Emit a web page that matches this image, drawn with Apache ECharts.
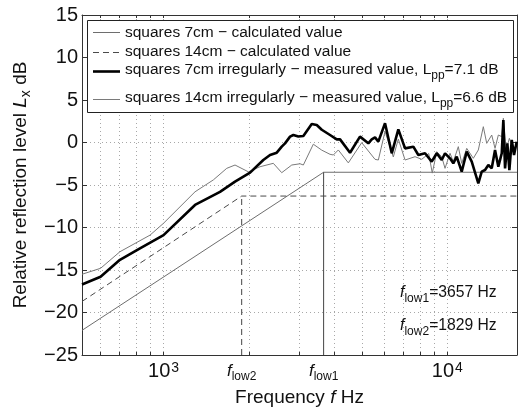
<!DOCTYPE html>
<html><head><meta charset="utf-8">
<script src="https://cdn.jsdelivr.net/npm/echarts@6/dist/echarts.min.js"></script>
<style>html,body{margin:0;padding:0;background:#fff}#c{width:518px;height:412px}</style>
</head><body><div id="c"></div>
<script>
// ---------------- data ----------------
const xRange = [516, 17600];            // Hz, visible frequency range
const yRange = [-25, 15];               // dB
const yTickStep = 5;
const xMinorTicks = [600, 700, 800, 900, 1000, 2000, 3000, 4000, 5000, 6000, 7000, 8000, 9000, 10000];
const xLabelValues = [1000, 10000];
const markerNames = ['low1', 'low2'];
const markerFreq = [3665, 1885];        // where the f_low lines are drawn
const markerTextHz = [3657, 1829];      // values written in the annotation

const seriesNames = [
  'squares 7cm − calculated value',
  'squares 14cm − calculated value',
  'squares 7cm irregularly − measured value, L{sub|pp}=7.1 dB',
  'squares 14cm irregularly − measured value, L{sub|pp}=6.6 dB'
];

const calc7cm = [[516, -22.1], [3665, -3.5], [17600, -3.5]];
const calc14cm = [[516, -18.7], [1885, -6.3], [17600, -6.3]];

const meas7cm = [
  [516,-16.7],[600,-15.8],[702,-13.8],[826,-12.45],[1000,-10.9],[1291,-7.35],[1581,-5.8],[1786,-4.6],
  [2018,-3.55],[2247,-2.06],[2373,-1.47],[2506,-1.2],[2609,-0.49],[2680,-0.1],[2791,0.69],[2868,0.88],
  [2985,0.7],[3027,0.61],[3109,0.76],[3328,2.18],[3466,2.06],[3610,1.5],[3861,0.88],[4077,0.37],
  [4188,0.37],[4541,-1.2],[4923,0.69],[4992,0.76],[5267,-0.1],[5415,0.37],[5562,0.6],[5713,0.1],
  [6032,2.26],[6370,-1.27],[6720,1.55],[7096,-0.69],[7590,-0.49],[7905,-1.47],[8346,-1.27],[8810,-2.25],
  [9177,-1.27],[9556,-2.06],[9815,-1.27],[10221,-1.86],[10498,-2.45],[10791,-1.67],[11238,-3.43],[11706,-1.08],
  [12190,-2.25],[12859,-4.8],[13219,-3.43],[13578,-3.24],[13949,-2.65],[14337,-3.04],[14728,-0.88],[15127,-2.84],
  [15552,-1.27],[15754,2.65],[15974,-3.04],[16275,-0.1],[16543,-3.24],[16867,0.3],[17180,-1.47],[17560,0.1]
];

const meas14cm = [
  [516,-15.5],[600,-14.8],[702,-12.85],[896,-10.9],[1000,-9.5],[1291,-5.8],[1498,-4.4],[1670,-3.04],
  [1786,-2.65],[1990,-3.45],[2188,-2.85],[2437,-2.45],[2609,-3.55],[2830,-2.65],[3027,-2.5],[3109,-2.65],
  [3371,-0.2],[3610,-0.9],[3861,-1.39],[3966,-1.47],[4130,-0.88],[4479,-2.4],[4992,-0.02],[5562,-1.98],
  [5713,-2.06],[6032,1.3],[6452,-1.7],[6720,0.4],[7096,-2.06],[7696,-1.67],[8126,-1.98],[8600,-1.3],
  [8850,-3.6],[9177,-1.08],[9556,-1.67],[9815,-3.04],[10221,-1.27],[10498,-2.25],[10931,-0.49],[11238,-2.45],
  [11706,-0.69],[12348,-1.86],[12859,-0.88],[13391,1.86],[13767,-0.1],[14337,0.88],[14728,-0.69],[15127,0.88],
  [15552,0.69],[15754,2.85],[16103,-0.88],[16543,0.49],[17089,-0.88],[17560,-0.1]
];

// ---------------- styles ----------------
const FONT = '"Liberation Sans", Arial, Helvetica, sans-serif';
const AXIS_C = '#333';
const GRID_C = '#a8a8a8';
const lineStyles = [
  {color: '#6e6e6e', width: 1, type: 'solid'},
  {color: '#4a4a4a', width: 1, type: [6, 4]},
  {color: '#000000', width: 2.6, type: 'solid'},
  {color: '#7a7a7a', width: 1, type: 'solid'}
];
const dataSets = [calc7cm, calc14cm, meas7cm, meas14cm];
const zOrder = [3, 3, 5, 4];

const chart = echarts.init(document.getElementById('c'));

function near(a, b) { return Math.abs(Math.log10(a / b)) < 0.004; }
function xLabel(v) {
  if (near(v, 1000)) return '10{sup|3}';
  if (near(v, 10000)) return '10{sup|4}';
  for (let i = 0; i < markerFreq.length; i++) if (near(v, markerFreq[i])) return '{i|f}{sub|' + markerNames[i] + '}';
  return '';
}

const series = dataSets.map((d, i) => ({
  type: 'line', name: seriesNames[i], data: d, symbol: 'none', showSymbol: false,
  lineStyle: lineStyles[i], z: zOrder[i], animation: false, silent: true
}));
// f_low marker lines (vertical, from bottom to the corner of the calculated curve)
series.push({type: 'line', data: [[markerFreq[0], yRange[0]], [markerFreq[0], calc7cm[1][1]]], symbol: 'none',
  lineStyle: {color: '#444', width: 1, type: 'solid'}, z: 3, animation: false, silent: true});
series.push({type: 'line', data: [[markerFreq[1], yRange[0]], [markerFreq[1], calc14cm[1][1]]], symbol: 'none',
  lineStyle: {color: '#444', width: 1, type: [6, 4]}, z: 3, animation: false, silent: true});

const baseX = {
  type: 'log', logBase: 10, min: xRange[0], max: xRange[1],
  axisLine: {show: true, onZero: false, lineStyle: {color: AXIS_C, width: 1}},
  axisTick: {show: true, inside: true, length: 3, customValues: xMinorTicks, lineStyle: {color: AXIS_C}},
  minorTick: {show: false}
};

chart.setOption({
  animation: false,
  backgroundColor: '#fff',
  grid: {left: 82, top: 15, right: 1, bottom: 57, containLabel: false},
  xAxis: [
    Object.assign({}, baseX, {
      position: 'bottom',
      name: 'Frequency {i|f} Hz', nameLocation: 'middle', nameGap: 25,
      nameTextStyle: {fontFamily: FONT, fontSize: 19, color: '#111',
        rich: {i: {fontFamily: FONT, fontSize: 19, fontStyle: 'italic', color: '#111'}}},
      splitLine: {show: true, lineStyle: {color: GRID_C, type: [1, 3], width: 1}},
      axisLabel: {show: true, customValues: xLabelValues.concat(markerFreq), margin: 5,
        fontFamily: FONT, fontSize: 20, color: '#111', formatter: xLabel,
        rich: {
          sup: {fontFamily: FONT, fontSize: 14, color: '#111', padding: [0, 0, 6, 1], lineHeight: 22},
          i: {fontFamily: FONT, fontSize: 17, fontStyle: 'italic', color: '#111', lineHeight: 22},
          sub: {fontFamily: FONT, fontSize: 12, color: '#111', padding: [12, 0, 0, 0], lineHeight: 22}
        }}
    }),
    Object.assign({}, baseX, {position: 'top', axisLabel: {show: false}, splitLine: {show: false}})
  ],
  yAxis: [
    {
      type: 'value', min: yRange[0], max: yRange[1], interval: yTickStep, position: 'left',
      axisLine: {show: true, onZero: false, lineStyle: {color: AXIS_C}},
      axisTick: {show: true, inside: true, length: 5, lineStyle: {color: AXIS_C}},
      splitLine: {show: true, lineStyle: {color: GRID_C, type: [1, 3], width: 1}},
      axisLabel: {fontFamily: FONT, fontSize: 20, color: '#111', margin: 4,
        formatter: v => (v < 0 ? '\u2212' + (-v) : String(v))},
      name: '{t|Relative reflection level }{i|L}{sub|x}{t| dB}', nameLocation: 'middle', nameGap: 50,
      nameTextStyle: {fontFamily: FONT, fontSize: 19, color: '#111',
        rich: {
          t: {fontFamily: FONT, fontSize: 19, color: '#111', lineHeight: 22},
          i: {fontFamily: FONT, fontSize: 19, fontStyle: 'italic', color: '#111', lineHeight: 22},
          sub: {fontFamily: FONT, fontSize: 14, color: '#111', padding: [10, 0, 0, 0], lineHeight: 22}
        }}
    },
    {
      type: 'value', min: yRange[0], max: yRange[1], interval: yTickStep, position: 'right',
      axisLine: {show: true, onZero: false, lineStyle: {color: AXIS_C}},
      axisTick: {show: true, inside: true, length: 5, lineStyle: {color: AXIS_C}},
      splitLine: {show: false}, axisLabel: {show: false}
    }
  ],
  series: series
});

// ---------------- legend box and annotations (graphic) ----------------
const legendBox = {x: 87, y: 20, w: 426, h: 92};
const legendRowsY = [32, 52, 71, 99];
const legendTextY = [33, 52, 70, 98];
const richSub = {sub: {fontFamily: FONT, fontSize: 12, fill: '#111', padding: [12, 0, 0, 0], lineHeight: 18}};
const g = [];
g.push({type: 'rect', shape: {x: legendBox.x + 0.5, y: legendBox.y + 0.5, width: legendBox.w, height: legendBox.h},
  style: {fill: '#fff', stroke: '#222', lineWidth: 1}, z: 100});
seriesNames.forEach((n, i) => {
  const ls = lineStyles[i];
  g.push({type: 'line', shape: {x1: legendBox.x + 6, y1: legendRowsY[i] + 0.5, x2: legendBox.x + 33, y2: legendRowsY[i] + 0.5},
    style: {stroke: ls.color, lineWidth: ls.width, lineDash: Array.isArray(ls.type) ? ls.type : null}, z: 101});
  g.push({type: 'text', x: legendBox.x + 38, y: legendTextY[i], z: 101,
    style: {text: n, fontFamily: FONT, fontSize: 15.5, fill: '#111', verticalAlign: 'middle', align: 'left',
      lineHeight: 18, rich: richSub}});
});
const annY = [293, 326];
markerNames.forEach((n, i) => {
  g.push({type: 'text', x: 400, y: annY[i], z: 101,
    style: {text: '{i|f}{sub|' + n + '}=' + markerTextHz[i] + ' Hz', fontFamily: FONT, fontSize: 15.7, fill: '#111',
      verticalAlign: 'middle', align: 'left', lineHeight: 18,
      rich: {i: {fontFamily: FONT, fontSize: 16, fontStyle: 'italic', fill: '#111', lineHeight: 18},
             sub: {fontFamily: FONT, fontSize: 12, fill: '#111', padding: [12, 0, 0, 0], lineHeight: 18}}}});
});
chart.setOption({graphic: g});
</script>
</body></html>
